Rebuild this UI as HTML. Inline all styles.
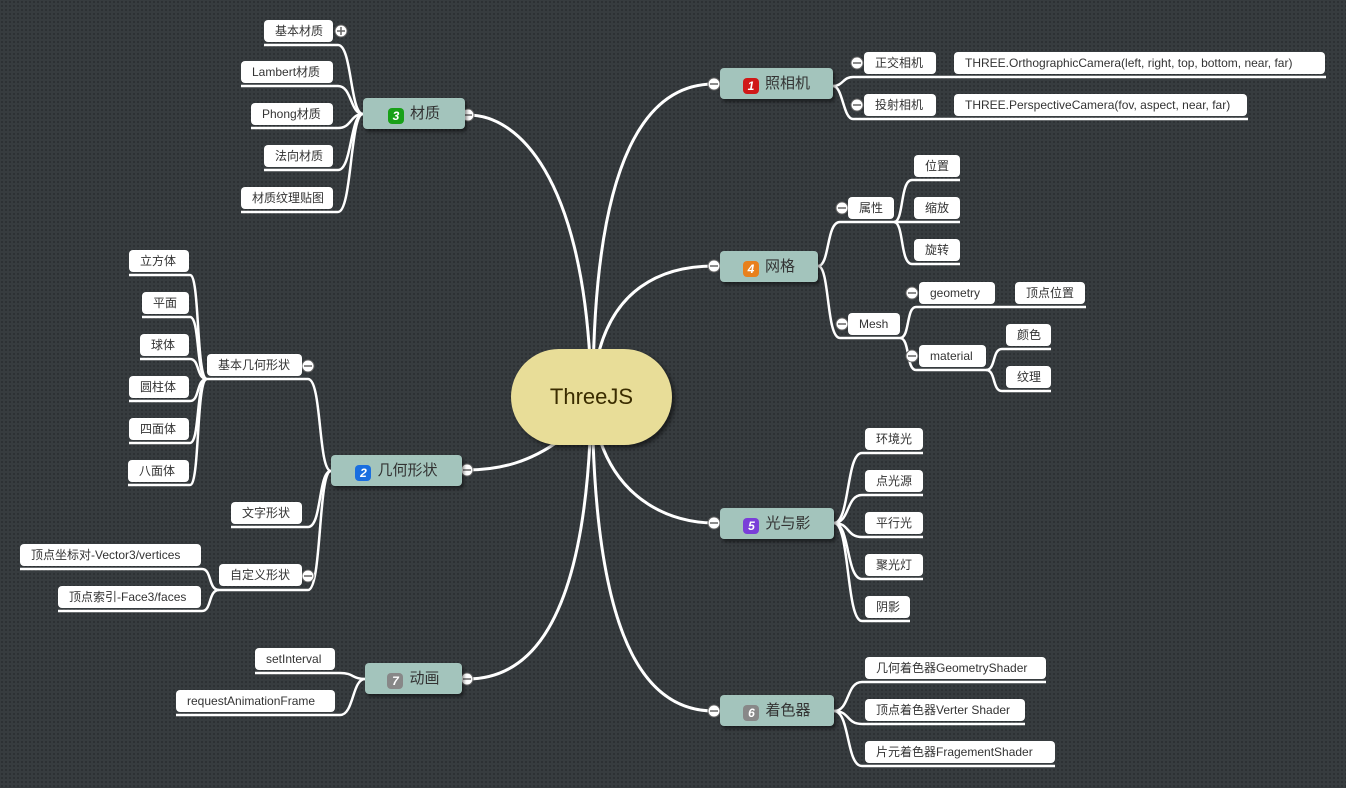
<!DOCTYPE html>
<html><head><meta charset="utf-8"><style>
body{margin:0;width:1346px;height:788px;overflow:hidden;background:#373c3f;background-image:radial-gradient(#2c3033 1px,transparent 1.2px);background-size:4px 4px;font-family:"Liberation Sans","Noto Sans CJK SC",sans-serif;position:relative}
.l{position:absolute;background:#fff;border-radius:4px;height:22px;line-height:22px;font-size:12px;color:#333;text-align:left;padding-left:11px;box-sizing:border-box;white-space:nowrap}
.m{position:absolute;background:#a3c4bc;border-radius:4px;height:31px;line-height:31px;font-size:15px;color:#333;box-shadow:2px 3px 3px rgba(0,0,0,.45);text-align:center}
.b{display:inline-block;width:16px;height:16px;border-radius:4px;color:#fff;font-size:12px;line-height:16px;font-style:italic;font-weight:bold;vertical-align:-2px;margin-right:6px;text-align:center}
.c{position:absolute;left:511px;top:349px;width:161px;height:96px;border-radius:48px;background:#e8dd98;font-size:22px;color:#3a2c00;text-align:center;line-height:96px;box-shadow:3px 3px 4px rgba(0,0,0,.5)}
svg{position:absolute;left:0;top:0}
circle{fill:#fff;stroke:#666;stroke-width:1}
</style></head><body>
<svg width="1346" height="788" fill="none" stroke="#fff" stroke-width="2.5">
<g stroke-width="3">
<path d="M593,395 C593,150 650,84 714,84"/>
<path d="M597,360 C612,290 660,266 714,266"/>
<path d="M600,440 C620,500 670,523 714,523"/>
<path d="M593,440 C600,650 650,711 714,711"/>
<path d="M590,360 C580,180 520,115 468,115"/>
<path d="M560,440 C530,462 500,470 467,470"/>
<path d="M590,440 C580,640 520,679 467,679"/>
</g>
<path d="M833,86 C843,86 843,77 853,77 L1326,77"/>
<path d="M833,86 C843,86 843,119 853,119 L1248,119"/>
<path d="M818,266 C830,266 826,222 840,222 L894,222"/>
<path d="M818,266 C830,266 826,338 840,338 L900,338"/>
<path d="M894,222 C904,222 900,180 912,180 L960,180"/>
<path d="M894,222 L960,222"/>
<path d="M894,222 C904,222 900,264 912,264 L960,264"/>
<path d="M900,338 C910,338 906,307 916,307 L1086,307"/>
<path d="M900,338 C910,338 906,370 916,370 L986,370"/>
<path d="M986,370 C996,370 992,349 1002,349 L1051,349"/>
<path d="M986,370 C996,370 992,391 1002,391 L1051,391"/>
<path d="M834,523 C850,523 846,453 862,453 L923,453"/>
<path d="M834,523 C850,523 846,495 862,495 L923,495"/>
<path d="M834,523 C850,523 846,537 862,537 L923,537"/>
<path d="M834,523 C850,523 846,579 862,579 L923,579"/>
<path d="M834,523 C850,523 846,621 862,621 L910,621"/>
<path d="M834,711 C850,711 846,682 862,682 L1046,682"/>
<path d="M834,711 C850,711 846,724 862,724 L1025,724"/>
<path d="M834,711 C850,711 846,766 862,766 L1055,766"/>
<path d="M363,114 C350,114 352,45 338,45 L264,45"/>
<path d="M363,114 C350,114 352,86 338,86 L241,86"/>
<path d="M363,114 C350,114 352,128 338,128 L251,128"/>
<path d="M363,114 C350,114 352,170 338,170 L264,170"/>
<path d="M363,114 C350,114 352,212 338,212 L241,212"/>
<path d="M331,471 C318,471 322,379 308,379 L207,379"/>
<path d="M331,471 C318,471 322,527 308,527 L231,527"/>
<path d="M331,471 C318,471 322,590 308,590 L219,590"/>
<path d="M207,379 C196,379 200,275 190,275 L129,275"/>
<path d="M207,379 C196,379 200,317 190,317 L142,317"/>
<path d="M207,379 C196,379 200,359 190,359 L140,359"/>
<path d="M207,379 C196,379 200,401 190,401 L129,401"/>
<path d="M207,379 C196,379 200,443 190,443 L129,443"/>
<path d="M207,379 C196,379 200,485 190,485 L128,485"/>
<path d="M219,590 C208,590 212,569 202,569 L20,569"/>
<path d="M219,590 C208,590 212,611 202,611 L58,611"/>
<path d="M365,679 C352,679 354,673 340,673 L255,673"/>
<path d="M365,679 C352,679 354,715 340,715 L176,715"/>
<circle cx="714" cy="84" r="6"/><circle cx="714" cy="266" r="6"/><circle cx="714" cy="523" r="6"/><circle cx="714" cy="711" r="6"/>
<circle cx="468" cy="115" r="6"/><circle cx="467" cy="470" r="6"/><circle cx="467" cy="679" r="6"/>
<circle cx="857" cy="63" r="6"/><circle cx="857" cy="105" r="6"/><circle cx="842" cy="208" r="6"/><circle cx="842" cy="324" r="6"/>
<circle cx="912" cy="293" r="6"/><circle cx="912" cy="356" r="6"/><circle cx="341" cy="31" r="6"/><circle cx="308" cy="366" r="6"/><circle cx="308" cy="576" r="6"/>
<path stroke="#666" stroke-width="1.5" d="M710,84h8M710,266h8M710,523h8M710,711h8M464,115h8M463,470h8M463,679h8M853,63h8M853,105h8M838,208h8M838,324h8M908,293h8M908,356h8M337,31h8M341,27v8M304,366h8M304,576h8"/>
</svg>
<div class="c">ThreeJS</div>
<div class="m" style="left:720px;top:68px;width:113px"><span class="b" style="background:#d01818">1</span>照相机</div>
<div class="m" style="left:720px;top:251px;width:98px"><span class="b" style="background:#e8801c">4</span>网格</div>
<div class="m" style="left:720px;top:508px;width:114px"><span class="b" style="background:#7a3ed8">5</span>光与影</div>
<div class="m" style="left:720px;top:695px;width:114px"><span class="b" style="background:#888">6</span>着色器</div>
<div class="m" style="left:363px;top:98px;width:102px"><span class="b" style="background:#18a018">3</span>材质</div>
<div class="m" style="left:331px;top:455px;width:131px"><span class="b" style="background:#1a6ee0">2</span>几何形状</div>
<div class="m" style="left:365px;top:663px;width:97px"><span class="b" style="background:#888">7</span>动画</div>

<div class="l" style="left:864px;top:52px;width:72px">正交相机</div>
<div class="l" style="left:954px;top:52px;width:371px">THREE.OrthographicCamera(left, right, top, bottom, near, far)</div>
<div class="l" style="left:864px;top:94px;width:72px">投射相机</div>
<div class="l" style="left:954px;top:94px;width:293px">THREE.PerspectiveCamera(fov, aspect, near, far)</div>
<div class="l" style="left:848px;top:197px;width:46px">属性</div>
<div class="l" style="left:914px;top:155px;width:46px">位置</div>
<div class="l" style="left:914px;top:197px;width:46px">缩放</div>
<div class="l" style="left:914px;top:239px;width:46px">旋转</div>
<div class="l" style="left:848px;top:313px;width:52px">Mesh</div>
<div class="l" style="left:919px;top:282px;width:76px">geometry</div>
<div class="l" style="left:1015px;top:282px;width:70px">顶点位置</div>
<div class="l" style="left:919px;top:345px;width:67px">material</div>
<div class="l" style="left:1006px;top:324px;width:45px">颜色</div>
<div class="l" style="left:1006px;top:366px;width:45px">纹理</div>
<div class="l" style="left:865px;top:428px;width:58px">环境光</div>
<div class="l" style="left:865px;top:470px;width:58px">点光源</div>
<div class="l" style="left:865px;top:512px;width:58px">平行光</div>
<div class="l" style="left:865px;top:554px;width:58px">聚光灯</div>
<div class="l" style="left:865px;top:596px;width:45px">阴影</div>
<div class="l" style="left:865px;top:657px;width:181px">几何着色器GeometryShader</div>
<div class="l" style="left:865px;top:699px;width:160px">顶点着色器Verter Shader</div>
<div class="l" style="left:865px;top:741px;width:190px">片元着色器FragementShader</div>

<div class="l" style="left:264px;top:20px;width:69px">基本材质</div>
<div class="l" style="left:241px;top:61px;width:92px">Lambert材质</div>
<div class="l" style="left:251px;top:103px;width:82px">Phong材质</div>
<div class="l" style="left:264px;top:145px;width:69px">法向材质</div>
<div class="l" style="left:241px;top:187px;width:92px">材质纹理贴图</div>
<div class="l" style="left:207px;top:354px;width:95px">基本几何形状</div>
<div class="l" style="left:231px;top:502px;width:71px">文字形状</div>
<div class="l" style="left:219px;top:564px;width:83px">自定义形状</div>
<div class="l" style="left:129px;top:250px;width:60px">立方体</div>
<div class="l" style="left:142px;top:292px;width:47px">平面</div>
<div class="l" style="left:140px;top:334px;width:49px">球体</div>
<div class="l" style="left:129px;top:376px;width:60px">圆柱体</div>
<div class="l" style="left:129px;top:418px;width:60px">四面体</div>
<div class="l" style="left:128px;top:460px;width:61px">八面体</div>
<div class="l" style="left:20px;top:544px;width:181px">顶点坐标对-Vector3/vertices</div>
<div class="l" style="left:58px;top:586px;width:143px">顶点索引-Face3/faces</div>
<div class="l" style="left:255px;top:648px;width:80px">setInterval</div>
<div class="l" style="left:176px;top:690px;width:159px">requestAnimationFrame</div>
</body></html>
